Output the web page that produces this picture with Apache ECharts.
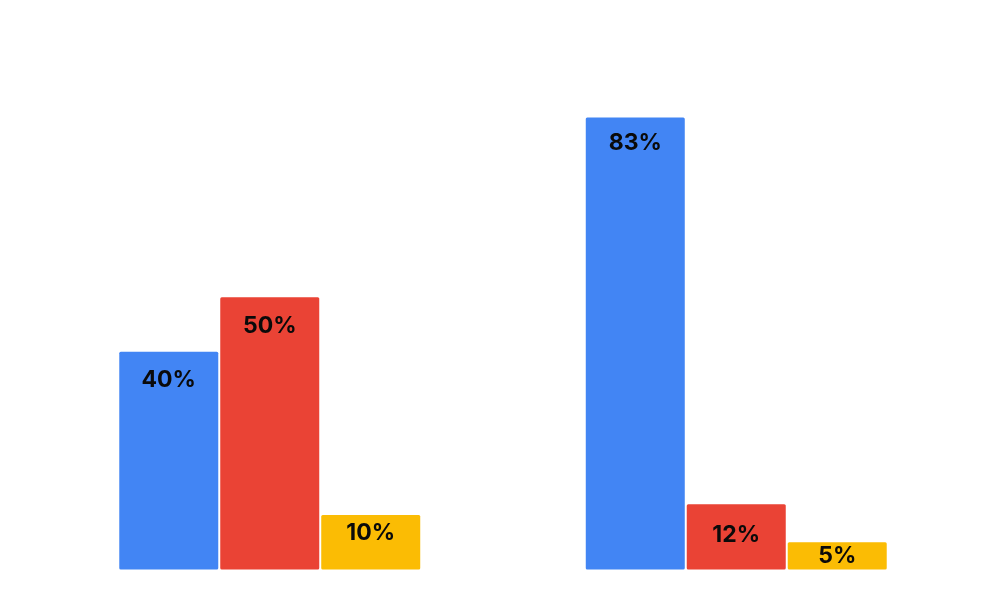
<!DOCTYPE html>
<html>
<head>
<meta charset="utf-8">
<script src="https://cdn.jsdelivr.net/npm/echarts@6/dist/echarts.min.js"></script>
<style>
html,body{margin:0;padding:0;background:#ffffff;}
#chart{width:1004px;height:591px;}
</style>
</head>
<body>
<div id="chart"></div>
<script>
const categories = ['Group A', 'Group B'];
const seriesNames = ['Series 1', 'Series 2', 'Series 3'];
const series1 = [40, 83];
const series2 = [50, 12];
const series3 = [10, 5];

const colors = ['#4285F4', '#EA4335', '#FBBC04'];
// label distance from bar top (styling only)
const labelDistances = [[17, 14], [17, 19], [7, 2]];

const allValues = [series1, series2, series3];

const chart = echarts.init(document.getElementById('chart'));
chart.setOption({
  animation: false,
  backgroundColor: '#ffffff',
  grid: { left: 36.5, right: 34.5, top: 25, bottom: 21.5, containLabel: false },
  xAxis: {
    type: 'category',
    data: categories,
    show: false
  },
  yAxis: {
    type: 'value',
    min: 0,
    max: 100,
    show: false,
    splitLine: { show: false }
  },
  series: allValues.map((vals, si) => ({
    name: seriesNames[si],
    type: 'bar',
    barWidth: 99,
    barGap: '2%',
    itemStyle: { color: colors[si], borderRadius: 1.5 },
    data: vals.map((v, di) => ({
      value: v,
      label: {
        show: true,
        position: 'insideTop',
        distance: labelDistances[si][di],
        formatter: '{c}%',
        color: '#0a0a0a',
        fontFamily: 'Inter',
        fontWeight: 'bold',
        fontSize: 23
      }
    }))
  }))
});
</script>
</body>
</html>
